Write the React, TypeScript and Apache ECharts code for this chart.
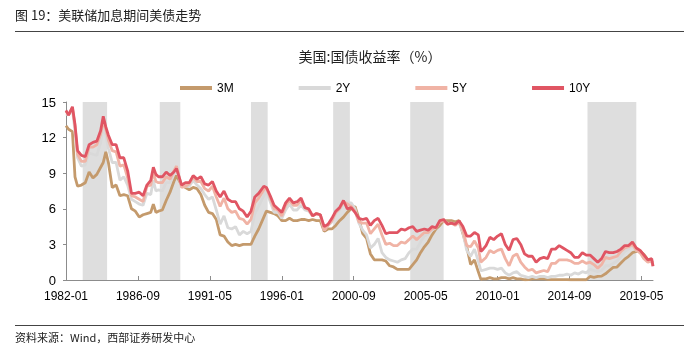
import React, { useEffect, useRef } from "react";
import * as echarts from "echarts";

const dates = [
  "1982-01","1982-03","1982-06","1982-08","1982-10",
  "1983-01","1983-04","1983-07","1983-10",
  "1984-01","1984-04","1984-06","1984-08","1984-10",
  "1985-01","1985-04","1985-07","1985-10",
  "1986-01","1986-04","1986-07","1986-10",
  "1987-01","1987-04","1987-07","1987-09","1987-11",
  "1988-01","1988-04","1988-07","1988-10",
  "1989-01","1989-03","1989-07","1989-10",
  "1990-01","1990-04","1990-07","1990-10",
  "1991-01","1991-04","1991-07","1991-10",
  "1992-01","1992-04","1992-07","1992-10",
  "1993-01","1993-04","1993-07","1993-10",
  "1994-01","1994-04","1994-07","1994-11",
  "1995-01","1995-04","1995-07","1995-10",
  "1996-01","1996-04","1996-07","1996-10",
  "1997-01","1997-04","1997-07","1997-10",
  "1998-01","1998-04","1998-07","1998-10",
  "1999-01","1999-04","1999-07","1999-10",
  "2000-01","2000-04","2000-07","2000-10",
  "2001-01","2001-04","2001-07","2001-10",
  "2002-01","2002-04","2002-07","2002-10",
  "2003-01","2003-04","2003-07","2003-10",
  "2004-01","2004-04","2004-07","2004-10",
  "2005-01","2005-04","2005-07","2005-10",
  "2006-01","2006-04","2006-07","2006-10",
  "2007-01","2007-04","2007-07","2007-10",
  "2008-01","2008-04","2008-07","2008-10","2008-12",
  "2009-01","2009-04","2009-07","2009-10",
  "2010-01","2010-04","2010-07","2010-10",
  "2011-01","2011-04","2011-07","2011-10",
  "2012-01","2012-04","2012-07","2012-10",
  "2013-01","2013-04","2013-07","2013-10",
  "2014-01","2014-04","2014-07","2014-10",
  "2015-01","2015-04","2015-07","2015-10",
  "2016-01","2016-04","2016-07","2016-10",
  "2017-01","2017-04","2017-07","2017-10",
  "2018-01","2018-04","2018-07","2018-10",
  "2019-01","2019-04","2019-07","2019-10",
  "2020-01","2020-02",
];

const m3 = [
  13.0, 12.7, 12.5, 8.7, 7.9,
  8.0, 8.2, 9.1, 8.6,
  8.9, 9.5, 9.9, 10.8, 9.9,
  7.8, 8.0, 7.1, 7.2,
  7.1, 6.0, 5.8, 5.3,
  5.5, 5.6, 5.7, 6.4, 5.7,
  5.8, 5.9, 6.7, 7.4,
  8.3, 8.8, 8.0, 7.8,
  7.6, 7.8, 7.7, 7.2,
  6.3, 5.7, 5.6, 5.1,
  3.8, 3.7, 3.2, 2.9,
  3.0, 2.9, 3.0, 3.0,
  3.0, 3.7, 4.3, 5.3,
  5.8, 5.7, 5.6, 5.4,
  5.0, 5.0, 5.2, 5.0,
  5.0, 5.1, 5.1, 5.0,
  5.1, 5.0, 5.0, 4.1,
  4.3, 4.3, 4.6, 5.0,
  5.3, 5.7, 6.0, 6.2,
  5.2, 3.9, 3.5, 2.2,
  1.7, 1.7, 1.7, 1.6,
  1.2, 1.1, 0.9, 0.9,
  0.9, 0.9, 1.3, 1.7,
  2.3, 2.8, 3.2, 3.8,
  4.3, 4.6, 5.0, 5.0,
  5.0, 4.9, 5.0, 3.9,
  2.8, 1.3, 1.7, 0.7, 0.05,
  0.1, 0.1, 0.2, 0.1,
  0.1, 0.2, 0.2, 0.1,
  0.2, 0.1, 0.1, 0.02,
  0.03, 0.1, 0.1, 0.1,
  0.1, 0.06, 0.04, 0.04,
  0.04, 0.03, 0.03, 0.02,
  0.03, 0.02, 0.03, 0.02,
  0.3, 0.23, 0.3, 0.33,
  0.52, 0.8, 1.07, 1.09,
  1.43, 1.76, 2.0, 2.3,
  2.4, 2.43, 2.15, 1.7,
  1.55, 1.5,
];

const y2 = [
  14.0, 13.9, 14.4, 12.5, 10.3,
  9.6, 9.7, 10.7, 10.6,
  10.5, 11.6, 12.8, 12.2, 11.1,
  9.9, 9.9, 8.4, 8.7,
  8.0, 6.8, 6.6, 6.4,
  6.3, 7.3, 7.2, 8.4, 7.5,
  7.6, 7.5, 8.2, 8.2,
  9.1, 9.6, 7.9, 7.9,
  7.9, 8.4, 8.0, 7.7,
  7.2, 6.8, 7.0, 5.9,
  4.7, 5.4, 4.4, 4.3,
  4.5, 3.8, 4.1, 3.9,
  4.1, 5.6, 6.2, 7.1,
  7.5, 6.6, 5.7, 5.7,
  5.2, 5.9, 6.4, 5.9,
  5.9, 6.3, 5.9, 5.8,
  5.4, 5.6, 5.5, 4.2,
  4.6, 4.9, 5.6, 5.9,
  6.4, 6.5, 6.5, 6.0,
  4.8, 4.2, 3.8, 2.7,
  3.0, 3.5, 2.3, 1.9,
  1.7, 1.6, 1.5, 1.7,
  1.8, 2.3, 2.6, 2.6,
  3.2, 3.7, 3.9, 4.2,
  4.4, 4.9, 5.1, 4.7,
  4.8, 4.7, 4.8, 4.0,
  2.5, 2.0, 2.6, 1.6, 0.8,
  0.8, 0.9, 1.0, 1.0,
  0.9, 1.0, 0.6, 0.4,
  0.6, 0.7, 0.4, 0.3,
  0.2, 0.3, 0.2, 0.3,
  0.3, 0.2, 0.3, 0.3,
  0.4, 0.4, 0.5, 0.4,
  0.6, 0.5, 0.7, 0.6,
  0.9, 0.8, 0.7, 0.8,
  1.2, 1.2, 1.4, 1.6,
  2.0, 2.4, 2.6, 2.9,
  2.5, 2.3, 1.8, 1.6,
  1.5, 1.3,
];

const y5 = [
  14.2, 13.9, 14.5, 13.0, 10.6,
  10.0, 10.0, 11.2, 11.2,
  11.4, 12.3, 13.4, 12.7, 11.8,
  10.9, 10.8, 9.6, 9.7,
  8.6, 7.1, 7.0, 6.8,
  6.6, 7.9, 8.0, 9.1, 8.3,
  8.2, 8.2, 8.7, 8.5,
  9.2, 9.6, 7.8, 7.9,
  8.1, 8.7, 8.3, 8.3,
  7.7, 7.5, 7.9, 7.0,
  6.2, 6.9, 6.0, 5.7,
  5.8, 5.2, 5.1, 4.7,
  5.1, 6.5, 6.9, 7.6,
  7.8, 6.9, 6.0, 5.9,
  5.4, 6.3, 6.7, 6.3,
  6.3, 6.7, 6.1, 5.9,
  5.4, 5.6, 5.5, 4.2,
  4.6, 5.0, 5.7, 6.0,
  6.6, 6.4, 6.2, 5.8,
  4.9, 4.8, 4.8, 3.9,
  4.3, 4.7, 3.8, 3.0,
  3.1, 2.9, 2.9, 3.2,
  3.1, 3.4, 3.7, 3.4,
  3.7, 4.0, 4.0, 4.3,
  4.4, 4.9, 5.0, 4.7,
  4.8, 4.6, 4.9, 4.2,
  2.9, 2.8, 3.3, 2.7, 1.5,
  1.6, 1.9, 2.5, 2.3,
  2.5, 2.6, 1.8, 1.2,
  2.0, 2.2, 1.5, 1.1,
  0.8, 0.9, 0.6, 0.7,
  0.8, 0.7, 1.4, 1.4,
  1.7, 1.7, 1.7, 1.6,
  1.4, 1.4, 1.6, 1.4,
  1.5, 1.3, 1.0, 1.3,
  1.9, 1.8, 1.9, 2.0,
  2.4, 2.7, 2.8, 3.0,
  2.5, 2.3, 1.8, 1.5,
  1.6, 1.2,
];

const y10 = [
  14.3, 13.9, 14.6, 13.1, 10.9,
  10.5, 10.4, 11.4, 11.6,
  11.7, 12.6, 13.8, 12.9, 12.2,
  11.4, 11.4, 10.3, 10.3,
  9.2, 7.3, 7.3, 7.4,
  7.1, 8.0, 8.4, 9.5, 8.9,
  8.7, 8.7, 9.1, 8.8,
  9.1, 9.4, 8.0, 8.2,
  8.2, 8.8, 8.5, 8.7,
  8.1, 8.0, 8.3, 7.5,
  7.0, 7.5, 6.8, 6.6,
  6.6, 6.0, 5.8, 5.3,
  5.8, 7.0, 7.3, 7.9,
  7.8, 7.1, 6.3, 6.0,
  5.7, 6.5, 6.9, 6.5,
  6.6, 6.9, 6.1, 6.0,
  5.4, 5.6, 5.5, 4.5,
  4.7, 5.2, 5.8, 6.1,
  6.7, 6.0, 6.1, 5.7,
  5.2, 5.1, 5.2, 4.6,
  5.0, 5.2, 4.6, 3.9,
  4.0, 4.0, 4.0, 4.3,
  4.2, 4.4, 4.5, 4.1,
  4.2, 4.3, 4.2, 4.5,
  4.4, 5.0, 5.1, 4.7,
  4.8, 4.7, 5.0, 4.5,
  3.7, 3.7, 4.0, 3.8, 2.4,
  2.5, 2.9, 3.6, 3.4,
  3.7, 3.9, 3.0, 2.5,
  3.4, 3.5, 3.0, 2.2,
  2.0, 2.0, 1.5, 1.8,
  1.9, 1.8, 2.6, 2.6,
  2.9, 2.7, 2.5, 2.3,
  1.9, 1.9, 2.3, 2.1,
  2.1, 1.8, 1.5, 1.8,
  2.4, 2.3, 2.3, 2.4,
  2.6, 2.9, 2.9, 3.2,
  2.7, 2.5, 2.1, 1.7,
  1.8, 1.15,
];

const seriesNames = ["3M", "2Y", "5Y", "10Y"];
const hikeStart = ["1983-02", "1988-02", "1994-01", "1999-05", "2004-05", "2015-11"];
const hikeEnd = ["1984-09", "1989-06", "1995-02", "2000-06", "2006-07", "2019-01"];
const xTickLabels = ["1982-01", "1986-09", "1991-05", "1996-01", "2000-09", "2005-05", "2010-01", "2014-09", "2019-05"];
const axisEnd = "2020-02";

const toIdx = (d: string) => {
  const [y, m] = d.split("-").map(Number);
  return (y - 1982) * 12 + (m - 1);
};
const fromIdx = (i: number) => {
  const y = 1982 + Math.floor(i / 12);
  const m = (i % 12) + 1;
  return `${y}-${m < 10 ? "0" + m : m}`;
};

const colors = ["#c49a6c", "#d9d9d9", "#f0b3a5", "#e05563"];
const values = [m3, y2, y5, y10];

export default function App() {
  const ref = useRef<HTMLDivElement>(null);
  useEffect(() => {
    if (!ref.current) return;
    const chart = echarts.init(ref.current, undefined, { renderer: "svg" });
    const tickVals = xTickLabels.map(toIdx);
    const font = "'Liberation Sans', Arial, sans-serif";
    const cjk = "'Noto Sans CJK SC', sans-serif";
    chart.setOption({
      animation: false,
      color: colors,
      grid: { left: 66, right: 46, top: 102, bottom: 70, containLabel: false },
      legend: {
        data: seriesNames,
        left: 175,
        top: 77,
        icon: "rect",
        itemWidth: 32,
        itemHeight: 4,
        itemGap: 65,
        textStyle: { fontSize: 12, color: "#000", fontFamily: font },
      },
      xAxis: {
        type: "value",
        min: 0,
        max: toIdx(axisEnd),
        splitLine: { show: false },
        axisLine: { show: true, lineStyle: { color: "#8c8c8c", width: 1 } },
        axisTick: { show: true, inside: true, length: 4, customValues: tickVals, lineStyle: { color: "#8c8c8c" } },
        axisLabel: {
          customValues: tickVals,
          formatter: (v: number) => fromIdx(Math.round(v)),
          fontSize: 12,
          color: "#000",
          fontFamily: font,
          margin: 10,
        },
      },
      yAxis: {
        type: "value",
        min: 0,
        max: 15,
        interval: 3,
        splitLine: { show: false },
        axisLine: { show: true, lineStyle: { color: "#8c8c8c", width: 1 } },
        axisTick: { show: true, inside: false, length: 3, lineStyle: { color: "#8c8c8c" } },
        axisLabel: { fontSize: 13, color: "#000", fontFamily: font, margin: 10 },
      },
      series: seriesNames.map((name, k) => ({
        name,
        type: "line",
        showSymbol: false,
        symbol: "none",
        lineStyle: { width: 2.8, color: colors[k] },
        itemStyle: { color: colors[k] },
        data: dates.map((d, i) => [toIdx(d), values[k][i]]),
        markArea:
          k === 0
            ? {
                silent: true,
                itemStyle: { color: "#dedede" },
                data: hikeStart.map((s, j) => [{ xAxis: toIdx(s) }, { xAxis: toIdx(hikeEnd[j]) }]),
              }
            : undefined,
      })),
      graphic: [
        {
          type: "text",
          left: 15,
          top: 8,
          style: { text: "图 19：美联储加息期间美债走势", font: `13px ${cjk}`, fill: "#222" },
        },
        { type: "line", shape: { x1: 15, y1: 31.5, x2: 684, y2: 31.5 }, style: { stroke: "#444", lineWidth: 1 } },
        {
          type: "text",
          x: 370,
          y: 56,
          style: { text: "美国:国债收益率（%）", font: `14px ${cjk}`, fill: "#222", textAlign: "center", textVerticalAlign: "middle" },
        },
        { type: "line", shape: { x1: 15, y1: 325.5, x2: 684, y2: 325.5 }, style: { stroke: "#444", lineWidth: 1 } },
        {
          type: "text",
          left: 15,
          top: 331,
          style: { text: "资料来源：Wind，西部证券研发中心", font: `11px ${cjk}`, fill: "#222" },
        },
      ],
    });
    return () => chart.dispose();
  }, []);
  return <div ref={ref} style={{ position: "fixed", left: 0, top: 0, width: 699, height: 350 }} />;
}
